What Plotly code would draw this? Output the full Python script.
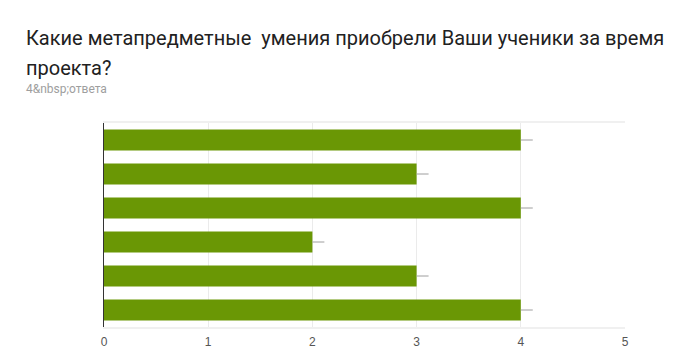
import plotly.graph_objects as go

categories = ["Вариант 1", "Вариант 2", "Вариант 3", "Вариант 4", "Вариант 5", "Вариант 6"]
values = [4, 3, 4, 2, 3, 4]
x_ticks = [0, 1, 2, 3, 4, 5]
stem = [0.115] * len(values)

OFF = 8  # page body margin
W, H = 696 - OFF, 364 - OFF
L, R, T, B = 104 - OFF, 625 - OFF, 123 - OFF, 327 - OFF


def py(y):
    """page pixel y -> paper coordinate"""
    return 1 + (T - (y - OFF)) / (B - T)


def px(x):
    return (x - OFF - L) / (R - L)


fig = go.Figure()
fig.add_trace(go.Bar(
    y=categories, x=values, orientation="h",
    marker=dict(color="#6A9705", line=dict(width=0)),
    error_x=dict(type="data", symmetric=False, array=stem, arrayminus=[0] * len(values),
                 width=0, color="#9e9e9e", thickness=1),
    hoverinfo="x+y",
))

title_font = dict(family="Roboto, sans-serif", size=20, color="#212121")
fig.update_layout(
    width=W, height=H,
    margin=dict(l=L, r=W - R, t=T, b=H - B, pad=0),
    paper_bgcolor="white", plot_bgcolor="white",
    bargap=0.38,
    showlegend=False,
    font=dict(family="Arial, Liberation Sans, sans-serif", color="#555555", size=12),
    xaxis=dict(range=[0, 5], tickvals=x_ticks, ticktext=[str(t) for t in x_ticks],
               showgrid=True, gridcolor="#ebebeb", gridwidth=1,
               showline=True, mirror=True, linecolor="#f0f0f0", linewidth=2,
               zeroline=False, ticks="", tickfont=dict(size=12, color="#555555"),
               ticklabelstandoff=3, fixedrange=True),
    yaxis=dict(autorange="reversed", showticklabels=False, showgrid=False,
               showline=True, linecolor="#333333", linewidth=1, zeroline=False,
               ticks="", fixedrange=True),
    annotations=[
        dict(text="Какие метапредметные\u00a0 умения приобрели Ваши ученики за время",
             xref="paper", yref="paper", x=px(24), y=py(24),
             xanchor="left", yanchor="top", align="left", showarrow=False,
             font=title_font),
        dict(text="проекта?",
             xref="paper", yref="paper", x=px(24), y=py(54),
             xanchor="left", yanchor="top", align="left", showarrow=False,
             font=title_font),
        dict(text="4&amp;nbsp;ответа",
             xref="paper", yref="paper", x=px(24), y=py(80),
             xanchor="left", yanchor="top", align="left", showarrow=False,
             font=dict(family="Roboto, sans-serif", size=12, color="#9e9e9e")),
    ],
)

fig.write_html("out.html")
